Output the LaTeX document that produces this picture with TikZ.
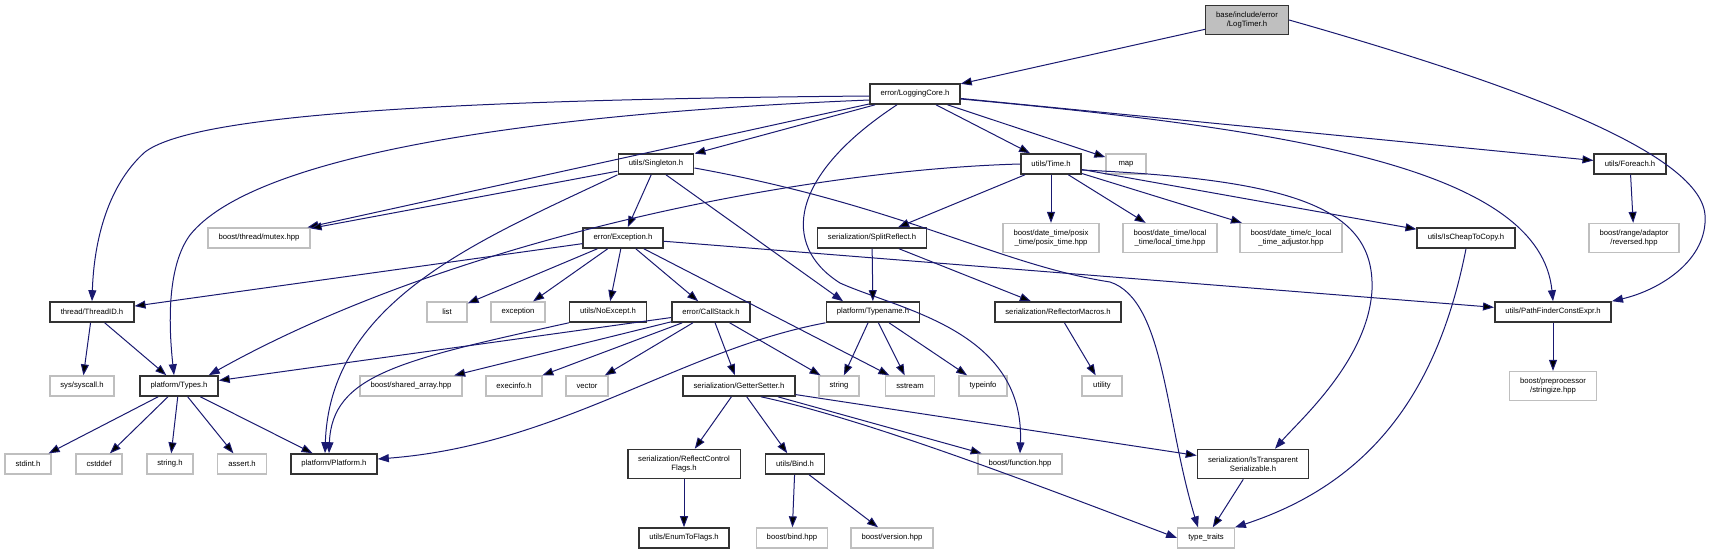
\documentclass[tikz,border=0pt]{standalone}
\usepackage{fontspec}
\setmainfont{Liberation Sans}
\usetikzlibrary{arrows.meta}

\definecolor{bleunuit}{HTML}{191970}
\definecolor{grisclair}{HTML}{BFBFBF}

\tikzset{boite/.style = {rectangle, minimum height = #1, minimum width = 40pt,
                         inner xsep = 10.5pt, inner ysep = 0pt, align = center,
                         font = \fontsize{7.7}{9.3}\selectfont},
         boite/.default = 20pt,
         fichier/.style = {boite = #1, draw = black!80, line width = 1.6pt},
         fichier/.default = 20pt,
         externe/.style = {boite = #1, draw = grisclair, line width = 1.3pt},
         externe/.default = 20pt,
         racine/.style = {fichier = 29pt, fill = grisclair},
         lien/.style = {draw = bleunuit, line width = 1pt,
                        -{Triangle[length = 11pt, width = 8pt]}}
        }

\begin{document}
\begin{tikzpicture}[x = 1pt, y = -1pt]
  \useasboundingbox (0,0) rectangle (1711,555);
  \node[racine] (timer) at (1247,20) {base/include/error\\/LogTimer.h};
  \node[fichier] (core) at (915,94) {error/LoggingCore.h};
  \node[fichier] (single) at (656,164) {utils/Singleton.h};
  \node[fichier] (time) at (1051,164) {utils/Time.h};
  \node[externe] (map) at (1126,164) {map};
  \node[fichier] (foreach) at (1630,164) {utils/Foreach.h};
  \node[externe] (mutex) at (259,238) {boost/thread/mutex.hpp};
  \node[fichier] (except) at (623,238) {error/Exception.h};
  \node[fichier] (split) at (872,238) {serialization/SplitReflect.h};
  \node[externe = 29pt] (posix) at (1051,238) {boost/date\_time/posix\\\_time/posix\_time.hpp};
  \node[externe = 29pt] (local) at (1170,238) {boost/date\_time/local\\\_time/local\_time.hpp};
  \node[externe = 29pt] (adjust) at (1291,238) {boost/date\_time/c\_local\\\_time\_adjustor.hpp};
  \node[fichier] (cheap) at (1466,238) {utils/IsCheapToCopy.h};
  \node[externe = 29pt] (reversed) at (1634,238) {boost/range/adaptor\\/reversed.hpp};
  \node[fichier] (threadid) at (92,312) {thread/ThreadID.h};
  \node[externe] (list) at (447,312) {list};
  \node[externe] (exception) at (518,312) {exception};
  \node[fichier] (noexcept) at (608,312) {utils/NoExcept.h};
  \node[fichier] (callstack) at (711,312) {error/CallStack.h};
  \node[fichier] (typename) at (873,312) {platform/Typename.h};
  \node[fichier] (reflmacros) at (1058,312) {serialization/ReflectorMacros.h};
  \node[fichier] (pathfinder) at (1553,312) {utils/PathFinderConstExpr.h};
  \node[externe] (syscall) at (82,386) {sys/syscall.h};
  \node[fichier] (types) at (179,386) {platform/Types.h};
  \node[externe] (sharedarr) at (411,386) {boost/shared\_array.hpp};
  \node[externe] (execinfo) at (514,386) {execinfo.h};
  \node[externe] (vector) at (587,386) {vector};
  \node[fichier] (getset) at (739,386) {serialization/GetterSetter.h};
  \node[externe] (string) at (839,386) {string};
  \node[externe] (sstream) at (910,386) {sstream};
  \node[externe] (typeinfo) at (983,386) {typeinfo};
  \node[externe] (utility) at (1102,386) {utility};
  \node[externe = 29pt] (stringize) at (1553,386) {boost/preprocessor\\/stringize.hpp};
  \node[externe] (stdint) at (28,464) {stdint.h};
  \node[externe] (cstddef) at (99,464) {cstddef};
  \node[externe] (stringh) at (170,464) {string.h};
  \node[externe] (assert) at (242,464) {assert.h};
  \node[fichier] (platform) at (334,464) {platform/Platform.h};
  \node[fichier = 29pt] (ctrlflags) at (684,464) {serialization/ReflectControl\\Flags.h};
  \node[fichier] (bind) at (795,464) {utils/Bind.h};
  \node[externe] (function) at (1020,464) {boost/function.hpp};
  \node[fichier = 29pt] (transp) at (1253,464) {serialization/IsTransparent\\Serializable.h};
  \node[fichier] (enumflags) at (684,538) {utils/EnumToFlags.h};
  \node[externe] (bindhpp) at (792,538) {boost/bind.hpp};
  \node[externe] (version) at (892,538) {boost/version.hpp};
  \node[externe] (traits) at (1206,538) {type\_traits};

  \path[lien] (timer) edge (core);
  \draw[lien] (timer.east) .. controls (1500,80) and (1700,150) .. (1705,215)
              .. controls (1708,260) and (1660,290) .. (pathfinder.north east);
  \draw[lien] ([yshift=-2pt]core.west) .. controls (400,100) and (190,118) .. (145,152)
              .. controls (108,185) and (94,240) .. (threadid.north);
  \draw[lien] ([yshift=-6pt]core.west) .. controls (500,115) and (250,160) .. (190,235)
              .. controls (168,265) and (168,320) .. ([xshift=-5pt]types.north);
  \path[lien] (core) edge (mutex) edge (single) edge (time) edge (map) edge (foreach);
  \draw[lien] ([xshift=-18pt]core.south) .. controls (790,175) and (780,245) .. (840,283)
              .. controls (900,310) and (1025,330) .. (function.north);
  \draw[lien] ([yshift=-5pt]core.east) .. controls (1300,130) and (1540,170) .. (pathfinder.north);

  \path[lien] (single) edge (mutex) edge (except);
  \draw[lien] ([xshift=10pt]single.south) -- ([xshift=-30pt]typename.north);
  \draw[lien] (single.south west) .. controls (480,240) and (330,300) .. ([xshift=-9pt]platform.north);
  \draw[lien] ([yshift=-4pt]single.east) .. controls (900,205) and (1000,265) .. (1110,282)
              .. controls (1165,300) and (1165,420) .. ([xshift=-8pt]traits.north);

  \path[lien] (time) edge (split) edge (posix) edge (local) edge (adjust) edge (cheap);
  \draw[lien] (time.west) .. controls (800,170) and (450,240) .. ([xshift=-10pt]types.north east);
  \draw[lien] ([yshift=-6pt]time.east) .. controls (1300,180) and (1375,210) .. (1372,290)
              .. controls (1368,360) and (1300,420) .. ([xshift=22pt]transp.north);

  \path[lien] (foreach) edge (reversed);
  \path[lien] (except) edge (threadid) edge (list) edge (exception) edge (noexcept)
              edge (callstack) edge (sstream) edge (pathfinder);
  \path[lien] (split) edge (typename) edge (reflmacros);
  \draw[lien] (cheap.south) .. controls (1440,380) and (1380,480) .. (traits.north east);
  \path[lien] (threadid) edge (syscall) edge (types);
  \draw[lien] (noexcept.south west) .. controls (400,360) and (332,375) .. ([xshift=-5pt]platform.north);
  \path[lien] (callstack) edge (types) edge (sharedarr) edge (execinfo) edge (vector)
              edge (getset) edge (string);
  \path[lien] (typename) edge (string) edge (sstream) edge (typeinfo);
  \draw[lien] (typename.south west) .. controls (680,350) and (560,445) .. ([yshift=5pt]platform.east);
  \path[lien] (reflmacros) edge (utility);
  \path[lien] (pathfinder) edge (stringize);
  \path[lien] (types) edge (stdint) edge (cstddef) edge (stringh) edge (assert) edge (platform);
  \path[lien] (getset) edge (ctrlflags) edge (bind) edge (function) edge (transp);
  \draw[lien] ([xshift=22pt]getset.south) .. controls (870,420) and (1050,490) .. (traits.west);
  \path[lien] (ctrlflags) edge (enumflags);
  \path[lien] (bind) edge (bindhpp) edge (version);
  \path[lien] (transp) edge (traits);
\end{tikzpicture}
\end{document}
